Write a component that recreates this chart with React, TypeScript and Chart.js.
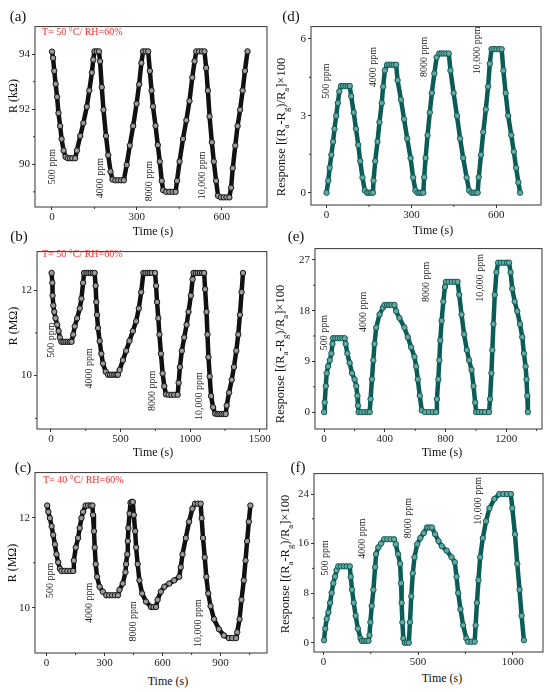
import React, { useEffect, useRef } from "react";
import { Chart, registerables } from "chart.js";
Chart.register(...registerables);

const FONT = "'Liberation Serif', 'Times New Roman', serif";
Chart.defaults.font.family = FONT;

const PPM = ["500 ppm", "4000 ppm", "8000 ppm", "10,000 ppm"];

// (a) 50 °C, resistance in kΩ
const A_TIME = [0, 4, 8, 13, 18, 23, 29, 34, 41, 48, 56, 64, 72, 82, 88, 100, 111, 123, 132, 141, 146, 150, 158, 166, 170, 176, 182, 191, 199, 207, 214, 224, 234, 244, 254, 264, 275, 287, 299, 308, 316, 322, 331, 340, 346, 352, 357, 366, 374, 381, 388, 393, 404, 415, 426, 437, 442, 451, 463, 475, 486, 496, 504, 510, 520, 530, 539, 545, 551, 557, 565, 572, 580, 587, 597, 607, 617, 627, 633, 639, 648, 656, 665, 674, 682, 691];
const A_R = [94.09, 93.86, 93.39, 92.92, 92.45, 91.86, 91.39, 90.92, 90.5, 90.27, 90.22, 90.22, 90.22, 90.22, 90.5, 91.03, 91.5, 92.09, 92.68, 93.33, 93.8, 94.1, 94.1, 94.1, 93.74, 92.8, 91.98, 91.03, 90.33, 89.74, 89.45, 89.42, 89.42, 89.42, 89.42, 89.98, 90.68, 91.39, 92.2, 92.9, 93.68, 94.1, 94.1, 94.1, 93.39, 92.68, 92.1, 91.4, 90.7, 90.1, 89.4, 89.06, 89.0, 89.0, 89.0, 89.0, 89.4, 90.1, 90.92, 91.6, 92.3, 93.15, 93.74, 94.1, 94.1, 94.1, 94.1, 93.5, 92.68, 91.74, 90.8, 90.1, 89.4, 88.86, 88.8, 88.8, 88.8, 88.8, 89.15, 89.86, 90.68, 91.39, 91.98, 92.68, 93.39, 94.1];
const A_XTICKS = [0, 300, 600];
const A_XMINOR = [150, 450];
const A_YTICKS = [90, 92, 94];
const A_YMINOR = [89, 91, 93];
const A_LABEL_T = [0, 170, 346, 533];
const A_LABEL_V = [89.92, 89.5, 89.39, 89.6];

// (d) response for (a)
const D_TIME = [0, 6, 11, 17, 23, 28, 34, 40, 45, 51, 59, 67, 75, 82, 87, 96, 104, 112, 119, 127, 135, 143, 150, 157, 164, 166, 172, 180, 187, 195, 200, 206, 214, 222, 230, 238, 246, 251, 263, 274, 285, 297, 306, 314, 321, 328, 335, 342, 345, 350, 357, 365, 372, 381, 389, 398, 406, 414, 423, 432, 438, 449, 461, 472, 483, 495, 504, 512, 520, 527, 534, 538, 546, 554, 563, 571, 577, 583, 592, 601, 610, 619, 625, 633, 642, 653, 662, 670, 678, 684];
const D_RESP = [0, 0.47, 0.97, 1.48, 1.99, 2.49, 3.0, 3.5, 3.95, 4.16, 4.16, 4.16, 4.16, 4.16, 3.76, 3.13, 2.49, 1.86, 1.23, 0.59, 0.09, 0, 0, 0, 0, 0.47, 1.23, 1.99, 2.75, 3.5, 4.14, 4.77, 4.99, 4.99, 4.99, 4.99, 4.99, 4.39, 3.63, 2.87, 2.11, 1.35, 0.59, 0.09, 0, 0, 0, 0, 0.6, 1.35, 2.24, 3.13, 3.89, 4.65, 5.28, 5.43, 5.43, 5.43, 5.43, 5.43, 4.77, 3.89, 3.0, 2.11, 1.35, 0.59, 0.09, 0, 0, 0, 0, 0.6, 1.48, 2.37, 3.25, 4.14, 5.03, 5.6, 5.6, 5.6, 5.6, 5.6, 4.77, 3.89, 3.0, 2.24, 1.6, 0.97, 0.4, 0];
const D_XTICKS = [0, 300, 600];
const D_XMINOR = [150, 450];
const D_YTICKS = [0, 3, 6];
const D_YMINOR = [1.5, 4.5];
const D_LABEL_T = [0, 166, 345, 534];
const D_LABEL_V = [4.35, 4.9, 5.3, 5.55];

// (b) 50 °C, resistance in MΩ
const B_TIME = [5, 10, 12, 17, 24, 33, 45, 55, 64, 75, 90, 105, 120, 135, 148, 160, 171, 188, 207, 219, 231, 238, 255, 270, 285, 300, 314, 321, 326, 331, 338, 350, 362, 374, 393, 410, 425, 440, 455, 470, 481, 493, 517, 540, 564, 588, 612, 631, 648, 664, 680, 695, 710, 725, 748, 755, 762, 771, 779, 790, 802, 814, 826, 845, 865, 885, 910, 917, 926, 940, 957, 974, 988, 1005, 1017, 1024, 1040, 1055, 1070, 1085, 1100, 1107, 1117, 1124, 1131, 1140, 1150, 1164, 1179, 1195, 1210, 1225, 1240, 1255, 1262, 1279, 1298, 1314, 1331, 1345, 1357, 1369, 1379];
const B_R = [12.4, 12.17, 11.87, 11.64, 11.49, 11.34, 11.19, 11.04, 10.89, 10.79, 10.79, 10.79, 10.79, 10.79, 10.79, 10.96, 11.15, 11.34, 11.57, 11.8, 12.17, 12.4, 12.4, 12.4, 12.4, 12.4, 12.4, 12.1, 11.72, 11.42, 11.11, 10.81, 10.51, 10.28, 10.09, 10.02, 10.02, 10.02, 10.02, 10.02, 10.02, 10.13, 10.36, 10.58, 10.81, 11.04, 11.27, 11.57, 11.95, 12.4, 12.4, 12.4, 12.4, 12.4, 12.4, 12.1, 11.72, 11.34, 10.96, 10.51, 10.05, 9.75, 9.56, 9.55, 9.55, 9.55, 9.55, 9.83, 10.2, 10.58, 10.89, 11.19, 11.49, 11.87, 12.25, 12.4, 12.4, 12.4, 12.4, 12.4, 12.4, 12.02, 11.49, 10.96, 10.43, 9.98, 9.52, 9.26, 9.11, 9.1, 9.1, 9.1, 9.1, 9.1, 9.3, 9.6, 9.9, 10.2, 10.58, 10.96, 11.42, 11.95, 12.4];
const B_XTICKS = [0, 500, 1000, 1500];
const B_XMINOR = [250, 750, 1250];
const B_YTICKS = [10, 12];
const B_YMINOR = [9, 11];
const B_LABEL_T = [0, 279, 731, 1064];
const B_LABEL_V = [10.83, 10.17, 9.64, 9.52];

// (e) response for (b)
const E_TIME = [0, 4, 11, 17, 26, 37, 48, 55, 59, 75, 90, 105, 120, 136, 142, 153, 168, 184, 201, 212, 219, 223, 227, 245, 265, 285, 300, 306, 315, 324, 332, 343, 365, 387, 398, 415, 430, 445, 463, 474, 496, 529, 551, 573, 595, 606, 617, 630, 643, 665, 690, 715, 737, 743, 752, 759, 765, 774, 785, 796, 802, 820, 840, 860, 879, 890, 905, 922, 940, 955, 971, 984, 995, 1001, 1020, 1040, 1060, 1086, 1093, 1102, 1108, 1115, 1124, 1135, 1146, 1165, 1185, 1205, 1218, 1228, 1239, 1255, 1272, 1290, 1305, 1316, 1327, 1333, 1338, 1342];
const E_RESP = [0, 1.7, 4.6, 6.9, 8.1, 9.2, 10.4, 12.1, 13.1, 13.1, 13.1, 13.1, 13.1, 13.1, 12.1, 10.4, 8.7, 6.9, 5.8, 4.6, 2.9, 1.15, 0, 0, 0, 0, 0, 2.3, 5.8, 9.2, 12.1, 15.0, 17.3, 18.5, 19.0, 19.0, 19.0, 19.0, 19.0, 17.9, 16.7, 15.0, 13.3, 11.5, 9.8, 8.1, 5.8, 2.9, 0.3, 0, 0, 0, 0, 2.3, 5.8, 9.2, 12.7, 16.2, 19.6, 22.2, 23.1, 23.1, 23.1, 23.1, 23.1, 20.8, 17.3, 13.8, 11.0, 9.2, 7.5, 4.6, 1.7, 0, 0, 0, 0, 0, 2.3, 6.9, 11.0, 15.6, 20.8, 24.8, 26.5, 26.5, 26.5, 26.5, 26.5, 24.8, 21.9, 19.6, 17.9, 15.6, 13.3, 10.4, 8.1, 5.8, 2.9, 0];
const E_XTICKS = [0, 400, 800, 1200];
const E_XMINOR = [200, 600, 1000, 1400];
const E_YTICKS = [0, 9, 18, 27];
const E_YMINOR = [4.5, 13.5, 22.5];
const E_LABEL_T = [0, 256, 671, 1032];
const E_LABEL_V = [14.1, 17.8, 23.1, 23.8];

// (c) 40 °C, resistance in MΩ
const C_TIME = [3, 9, 17, 26, 34, 43, 51, 60, 69, 77, 92, 107, 122, 137, 141, 151, 163, 171, 180, 189, 202, 215, 228, 237, 240, 245, 249, 254, 261, 274, 291, 309, 324, 339, 354, 369, 377, 394, 408, 411, 417, 420, 423, 429, 434, 440, 446, 451, 458, 463, 471, 480, 494, 514, 540, 553, 566, 574, 591, 609, 634, 660, 686, 694, 703, 720, 737, 754, 768, 782, 797, 802, 809, 818, 826, 836, 848, 866, 891, 917, 943, 960, 980, 986, 998, 1008, 1020, 1029, 1037, 1046, 1054];
const C_R = [12.27, 12.13, 11.99, 11.81, 11.62, 11.41, 11.19, 11.01, 10.87, 10.82, 10.82, 10.82, 10.82, 10.82, 11.05, 11.34, 11.55, 11.77, 11.99, 12.13, 12.27, 12.27, 12.27, 12.27, 12.06, 11.7, 11.34, 10.97, 10.69, 10.47, 10.36, 10.28, 10.28, 10.28, 10.28, 10.28, 10.4, 10.54, 10.79, 10.97, 11.19, 11.48, 11.77, 12.09, 12.33, 12.35, 12.35, 12.06, 11.7, 11.34, 10.97, 10.61, 10.32, 10.14, 10.02, 10.02, 10.02, 10.18, 10.36, 10.47, 10.54, 10.61, 10.69, 10.9, 11.19, 11.55, 11.91, 12.2, 12.31, 12.31, 12.31, 11.99, 11.55, 11.12, 10.69, 10.32, 10.04, 9.75, 9.53, 9.39, 9.33, 9.33, 9.33, 9.46, 9.75, 10.18, 10.61, 11.05, 11.48, 11.91, 12.27];
const C_XTICKS = [0, 300, 600, 900];
const C_XMINOR = [150, 450, 750, 1050];
const C_YTICKS = [10, 12];
const C_YMINOR = [11];
const C_LABEL_T = [17, 219, 449, 785];
const C_LABEL_V = [10.61, 10.11, 9.7, 9.66];

// (f) response for (c)
const F_TIME = [3, 9, 17, 26, 35, 43, 52, 61, 69, 78, 93, 108, 123, 139, 144, 151, 160, 170, 182, 196, 203, 215, 227, 238, 243, 248, 255, 264, 273, 278, 290, 304, 321, 338, 355, 373, 382, 394, 405, 410, 413, 417, 422, 429, 440, 451, 457, 464, 472, 481, 495, 512, 530, 547, 560, 573, 590, 608, 625, 651, 677, 694, 703, 712, 724, 738, 755, 764, 782, 799, 804, 811, 819, 828, 842, 859, 877, 903, 929, 950, 970, 990, 998, 1012, 1024, 1036, 1047, 1059];
const F_RESP = [0.4, 2.26, 3.83, 4.88, 6.45, 8.03, 9.6, 10.65, 11.7, 12.33, 12.33, 12.33, 12.33, 12.33, 10.65, 8.55, 6.45, 4.35, 2.26, 0.68, 0.3, 0.3, 0.3, 0.3, 1.2, 3.3, 5.93, 8.55, 12.2, 14.3, 15.4, 16.0, 16.7, 16.7, 16.7, 16.7, 15.9, 14.3, 12.75, 9.6, 6.45, 3.3, 0.68, 0, 0, 0, 3.3, 7.5, 11.2, 13.8, 15.9, 16.9, 17.7, 18.6, 18.6, 18.6, 17.5, 16.4, 15.6, 14.85, 13.8, 13.0, 10.65, 8.03, 5.4, 2.8, 0.68, 0.16, 0.16, 0.16, 2.8, 6.45, 10.1, 13.8, 16.9, 19.6, 21.7, 23.2, 24.0, 24.0, 24.0, 24.0, 21.7, 17.5, 12.75, 8.55, 4.35, 0.4];
const F_XTICKS = [0, 500, 1000];
const F_XMINOR = [250, 750];
const F_YTICKS = [0, 8, 16, 24];
const F_YMINOR = [4, 12, 20];
const F_LABEL_T = [9, 203, 451, 816];
const F_LABEL_V = [13.7, 16.8, 20.1, 22.9];

const Y_AXIS_W = 30;
const X_AXIS_H = 18;
const PAD_T = 4;
const PAD_R = 4;

type PanelProps = {
  frame: number[]; // left, top, right, bottom of the plot box on the page
  time: number[];
  values: number[];
  xRange: number[];
  yRange: number[];
  xTicks: number[];
  xMinor: number[];
  yTicks: number[];
  yMinor: number[];
  labelT: number[];
  labelV: number[];
  teal?: boolean;
};

const Panel: React.FC<PanelProps> = (p) => {
  const chartRef = useRef<HTMLCanvasElement | null>(null);
  const [l, t, r, b] = p.frame;
  const left = l - Y_AXIS_W;
  const top = t - PAD_T;
  const width = r - l + Y_AXIS_W + PAD_R;
  const height = b - t + PAD_T + X_AXIS_H;

  useEffect(() => {
    if (!chartRef.current) return;
    const line = p.teal ? "#0b5c56" : "#111111";
    const fill = p.teal ? "#6aa7a1" : "#9a9a9a";

    const framePlugin = {
      id: "frameAndLabels",
      afterDatasetsDraw(chart: any) {
        const { ctx, chartArea, scales } = chart;
        const { x, y } = scales;
        ctx.save();
        ctx.strokeStyle = "#333";
        ctx.lineWidth = 1;
        ctx.strokeRect(chartArea.left, chartArea.top, chartArea.right - chartArea.left, chartArea.bottom - chartArea.top);
        ctx.beginPath();
        p.xMinor.forEach((v) => {
          const px = x.getPixelForValue(v);
          ctx.moveTo(px, chartArea.bottom);
          ctx.lineTo(px, chartArea.bottom + 2);
        });
        p.yMinor.forEach((v) => {
          const py = y.getPixelForValue(v);
          ctx.moveTo(chartArea.left, py);
          ctx.lineTo(chartArea.left - 2, py);
        });
        ctx.stroke();
        ctx.fillStyle = "#222";
        ctx.font = `10px ${FONT}`;
        ctx.textAlign = "center";
        ctx.textBaseline = "middle";
        PPM.forEach((txt, i) => {
          ctx.save();
          ctx.translate(x.getPixelForValue(p.labelT[i]), y.getPixelForValue(p.labelV[i]));
          ctx.rotate(-Math.PI / 2);
          ctx.fillText(txt, 0, 0);
          ctx.restore();
        });
        ctx.restore();
      },
    };

    const tickFont = { family: FONT, size: 11 };
    const chart = new Chart(chartRef.current, {
      type: "scatter",
      data: {
        datasets: [
          {
            data: p.time.map((tt, i) => ({ x: tt, y: p.values[i] })),
            showLine: true,
            borderColor: line,
            borderWidth: 4.5,
            pointRadius: 2.7,
            pointBorderWidth: 1,
            pointBorderColor: line,
            pointBackgroundColor: fill,
          },
        ],
      },
      options: {
        animation: false,
        responsive: false,
        maintainAspectRatio: false,
        layout: { padding: { top: PAD_T, right: PAD_R, left: 0, bottom: 0 } },
        plugins: { legend: { display: false }, tooltip: { enabled: false } },
        scales: {
          x: {
            type: "linear",
            min: p.xRange[0],
            max: p.xRange[1],
            afterBuildTicks: (s: any) => {
              s.ticks = p.xTicks.map((v) => ({ value: v }));
            },
            afterFit: (s: any) => {
              s.height = X_AXIS_H;
            },
            ticks: { font: tickFont, color: "#222", autoSkip: false, maxRotation: 0, padding: 1, callback: (v: any) => String(v) },
            grid: { drawOnChartArea: false, tickLength: 3, tickColor: "#333" },
            border: { display: false },
          },
          y: {
            type: "linear",
            min: p.yRange[0],
            max: p.yRange[1],
            afterBuildTicks: (s: any) => {
              s.ticks = p.yTicks.map((v) => ({ value: v }));
            },
            afterFit: (s: any) => {
              s.width = Y_AXIS_W;
            },
            ticks: { font: tickFont, color: "#222", autoSkip: false, padding: 2, callback: (v: any) => String(v) },
            grid: { drawOnChartArea: false, tickLength: 3, tickColor: "#333" },
            border: { display: false },
          },
        },
      },
      plugins: [framePlugin],
    });
    return () => chart.destroy();
  }, []);

  return (
    <div style={{ position: "absolute", left, top, width, height }}>
      <canvas ref={chartRef} width={width} height={height} style={{ width, height }} />
    </div>
  );
};

const textBase: React.CSSProperties = {
  position: "absolute",
  fontFamily: FONT,
  color: "#111",
  whiteSpace: "nowrap",
  lineHeight: 1,
};

const YTitle: React.FC<{ x: number; y: number; size?: number; children: React.ReactNode }> = ({ x, y, size, children }) => (
  <div style={{ ...textBase, left: x, top: y, fontSize: size ?? 12, transform: "translate(-50%, -50%) rotate(-90deg)" }}>{children}</div>
);

const CenterText: React.FC<{ x: number; y: number; size: number; children: React.ReactNode }> = ({ x, y, size, children }) => (
  <div style={{ ...textBase, left: x, top: y, fontSize: size, transform: "translate(-50%, -50%)" }}>{children}</div>
);

const Condition: React.FC<{ x: number; y: number; text: string }> = ({ x, y, text }) => (
  <div style={{ ...textBase, left: x, top: y, fontSize: 10, color: "#ff2a2a", transform: "translateY(-50%)" }}>{text}</div>
);

const Response = () => (
  <span>
    Response [(R<sub style={{ fontSize: "0.7em" }}>a</sub>-R<sub style={{ fontSize: "0.7em" }}>g</sub>)/R<sub style={{ fontSize: "0.7em" }}>a</sub>]×100
  </span>
);

export default function App() {
  return (
    <div style={{ position: "absolute", left: 0, top: 0, width: 550, height: 692, background: "#fff", overflow: "hidden" }}>
      <Panel frame={[35, 22, 268, 207]} time={A_TIME} values={A_R} xRange={[-60, 760]} yRange={[88.45, 95.0]}
        xTicks={A_XTICKS} xMinor={A_XMINOR} yTicks={A_YTICKS} yMinor={A_YMINOR} labelT={A_LABEL_T} labelV={A_LABEL_V} />
      <Panel frame={[311, 22, 542, 205]} time={D_TIME} values={D_RESP} xRange={[-55, 758]} yRange={[-0.48, 6.48]}
        xTicks={D_XTICKS} xMinor={D_XMINOR} yTicks={D_YTICKS} yMinor={D_YMINOR} labelT={D_LABEL_T} labelV={D_LABEL_V} teal />
      <Panel frame={[37, 247, 268, 429]} time={B_TIME} values={B_R} xRange={[-100, 1550]} yRange={[8.75, 12.9]}
        xTicks={B_XTICKS} xMinor={B_XMINOR} yTicks={B_YTICKS} yMinor={B_YMINOR} labelT={B_LABEL_T} labelV={B_LABEL_V} />
      <Panel frame={[315, 244, 543, 429]} time={E_TIME} values={E_RESP} xRange={[-60, 1435]} yRange={[-3, 29]}
        xTicks={E_XTICKS} xMinor={E_XMINOR} yTicks={E_YTICKS} yMinor={E_YMINOR} labelT={E_LABEL_T} labelV={E_LABEL_V} teal />
      <Panel frame={[35, 468, 268, 653]} time={C_TIME} values={C_R} xRange={[-60, 1140]} yRange={[9.0, 13.0]}
        xTicks={C_XTICKS} xMinor={C_XMINOR} yTicks={C_YTICKS} yMinor={C_YMINOR} labelT={C_LABEL_T} labelV={C_LABEL_V} />
      <Panel frame={[314, 469, 544, 652]} time={F_TIME} values={F_RESP} xRange={[-50, 1160]} yRange={[-1.5, 27.3]}
        xTicks={F_XTICKS} xMinor={F_XMINOR} yTicks={F_YTICKS} yMinor={F_YMINOR} labelT={F_LABEL_T} labelV={F_LABEL_V} teal />

      <CenterText x={18} y={16} size={15}>(a)</CenterText>
      <CenterText x={291} y={16} size={15}>(d)</CenterText>
      <CenterText x={19} y={236} size={15}>(b)</CenterText>
      <CenterText x={296} y={236} size={15}>(e)</CenterText>
      <CenterText x={23} y={467} size={15}>(c)</CenterText>
      <CenterText x={298} y={467} size={15}>(f)</CenterText>

      <Condition x={42} y={32} text="T= 50 °C/ RH=60%" />
      <Condition x={42} y={254} text="T= 50 °C/ RH=60%" />
      <Condition x={43} y={480} text="T= 40 °C/ RH=60%" />

      <YTitle x={13} y={96}>R (kΩ)</YTitle>
      <YTitle x={13} y={326}>R (MΩ)</YTitle>
      <YTitle x={12} y={563}>R (MΩ)</YTitle>
      <YTitle x={283} y={127} size={12.5}><Response /></YTitle>
      <YTitle x={282} y={354} size={12.5}><Response /></YTitle>
      <YTitle x={287} y={564} size={12.5}><Response /></YTitle>

      <CenterText x={153} y={231} size={12}>Time (s)</CenterText>
      <CenterText x={433} y={230} size={12}>Time (s)</CenterText>
      <CenterText x={153} y={452} size={12}>Time (s)</CenterText>
      <CenterText x={442} y={452} size={12}>Time (s)</CenterText>
      <CenterText x={168} y={681} size={12}>Time (s)</CenterText>
      <CenterText x={442} y={678} size={12}>Time (s)</CenterText>
    </div>
  );
}
